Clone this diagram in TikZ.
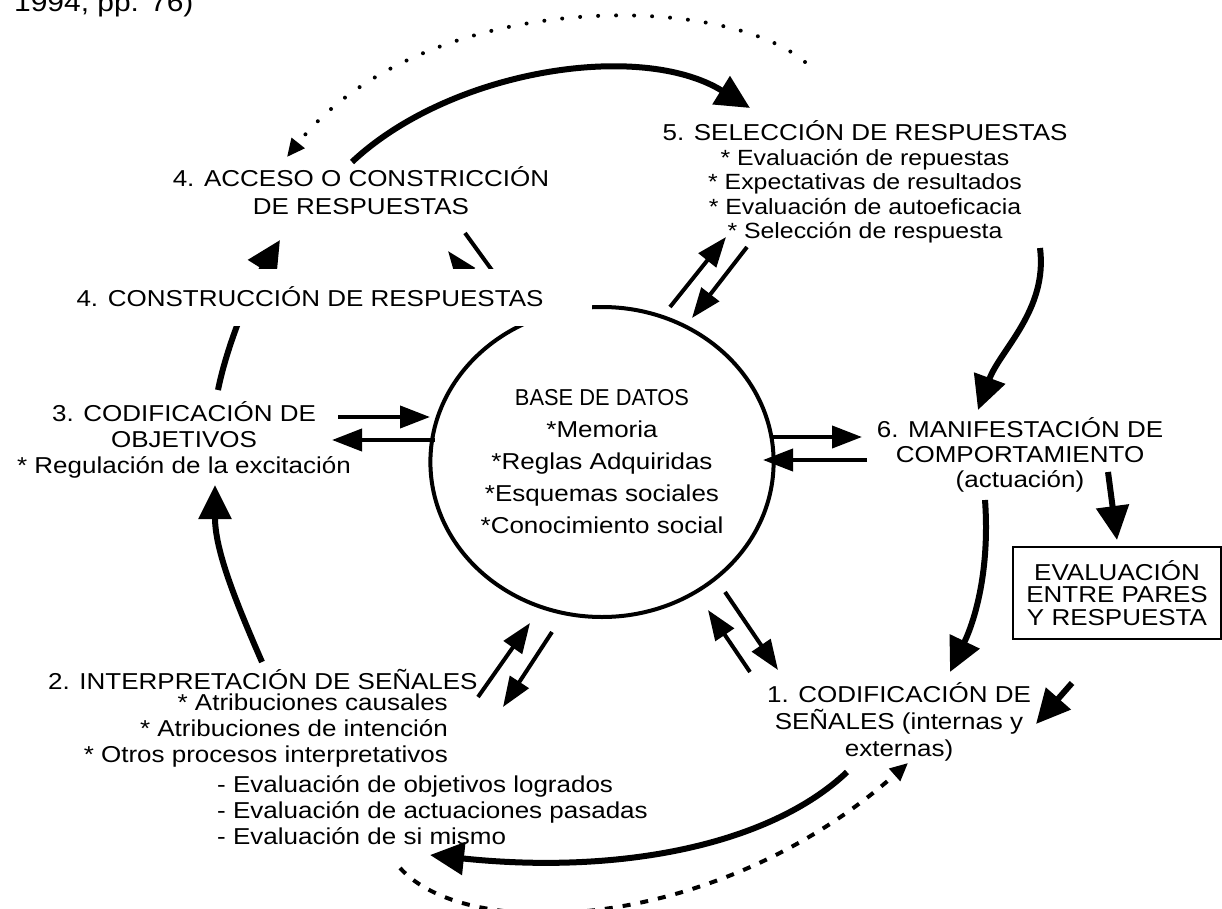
\documentclass[tikz,border=0pt]{standalone}
\usepackage{fontspec}
\setmainfont[FakeStretch=1.13]{Liberation Sans}
\newfontfamily\narrowfont[FakeStretch=0.95]{Liberation Sans}
\usetikzlibrary{arrows.meta,shapes.geometric,backgrounds}

\begin{document}
\begin{tikzpicture}[
    x=1pt, y=-1pt,
    lbl/.style={align=center, inner sep=0pt, font=\fontsize{23}{26}\selectfont},
    base/.style={ellipse, draw, line width=4pt, minimum width=298pt, minimum height=310pt, inner sep=0pt, align=center, font=\fontsize{23}{32}\selectfont},
    evalbox/.style={rectangle, draw, line width=2pt, minimum width=208pt, minimum height=92pt, align=center, font=\fontsize{23}{22.5}\selectfont},
    curve/.style={line width=6pt, -{Triangle[length=34pt,width=32pt]}},
    pair/.style={line width=4pt, -{Triangle[length=30pt,width=22pt]}},
    dots/.style={line width=4pt, line cap=round, dash pattern=on 0pt off 18pt, -{Triangle[length=18pt,width=16pt]}},
    dashes/.style={line width=4pt, dash pattern=on 8pt off 10pt, -{Triangle[length=18pt,width=16pt]}}
]
\useasboundingbox (0,0) rectangle (1222,909);

% caption cut at the top
\node[lbl, anchor=base west, font=\fontsize{26.5}{30}\selectfont] (src) at (14,12) {1994, pp. 76)};

% data base
\node[base] (db) at (602,462) {{\narrowfont BASE DE DATOS}\\*Memoria\\*Reglas Adquiridas\\*Esquemas sociales\\*Conocimiento social};

% steps
\node[lbl, font=\fontsize{23}{28}\selectfont] (acc) at (361,191) {4. ACCESO O CONSTRICCIÓN\\DE RESPUESTAS};
\node[lbl, fill=white, minimum width=564pt, minimum height=57pt] (cons) at (310,297) {4. CONSTRUCCIÓN DE RESPUESTAS};
\node[lbl] (obj) at (184,440) {3. CODIFICACIÓN DE\\OBJETIVOS\\* Regulación de la excitación};
\node[lbl, font=\fontsize{22}{24.5}\selectfont] (sel) at (865,182) {{\fontsize{23}{24.5}\selectfont 5. SELECCIÓN DE RESPUESTAS}\\* Evaluación de repuestas\\* Expectativas de resultados\\* Evaluación de autoeficacia\\* Selección de respuesta};
\node[lbl, font=\fontsize{23}{25}\selectfont] (man) at (1020,455) {6. MANIFESTACIÓN DE\\COMPORTAMIENTO\\(actuación)};
\node[evalbox] (eval) at (1117,593) {EVALUACIÓN\\ENTRE PARES\\Y RESPUESTA};
\node[lbl, font=\fontsize{23}{27}\selectfont] (cod) at (899,722) {1. CODIFICACIÓN DE\\SEÑALES (internas y\\externas)};
\node[lbl, anchor=west] (int) at (48,680) {2. INTERPRETACIÓN DE SEÑALES};
\node[lbl, align=right, anchor=north east] (intA) at (448,694) {* Atribuciones causales\\* Atribuciones de intención\\* Otros procesos interpretativos};
\node[lbl, align=left, anchor=north west] (intB) at (217,775) {- Evaluación de objetivos logrados\\- Evaluación de actuaciones pasadas\\- Evaluación de si mismo};

% arrow ends
\coordinate (a0) at (352,162);  \coordinate (a1) at (750,108);
\coordinate (b0) at (805,62);   \coordinate (b1) at (287,157);
\coordinate (c0) at (1040,248); \coordinate (c1) at (978,410);
\coordinate (d0) at (985,500);  \coordinate (d1) at (950,672);
\coordinate (e0) at (1108,472); \coordinate (e1) at (1117,540);
\coordinate (f0) at (1072,683); \coordinate (f1) at (1036,724);
\coordinate (g0) at (847,772);  \coordinate (g1) at (430,855);
\coordinate (h0) at (400,868);  \coordinate (h1) at (908,763);
\coordinate (i0) at (262,662);  \coordinate (i1) at (215,485);
\coordinate (j0) at (218,390);  \coordinate (j1) at (280,240);

\begin{scope}[on background layer]
% cycle
\draw[curve] (a0) .. controls (450,70) and (640,40) .. (a1);
\draw[dots] (b0) .. controls (720,-10) and (420,-10) .. (b1);
\draw[curve] (c0) .. controls (1048,310) and (1000,350) .. (c1);
\draw[curve] (d0) .. controls (990,570) and (975,620) .. (d1);
\draw[curve] (e0) -- (e1);
\draw[curve] (f0) -- (f1);
\draw[curve] (g0) .. controls (770,845) and (620,875) .. (g1);
\draw[dashes] (h0) .. controls (470,945) and (720,930) .. (h1);
\draw[curve] (i0) .. controls (235,600) and (215,550) .. (i1);
\draw[curve] (j0) .. controls (228,340) and (255,280) .. (j1);

% to and from the data base
\draw[pair] (338,417) -- (430,417);
\draw[pair] (435,440) -- (332,440);
\draw[pair] (770,437) -- (862,437);
\draw[pair] (867,460) -- (763,460);
\draw[pair] (670,307) -- (726,237);
\draw[pair] (747,247) -- (692,318);
\draw[pair] (478,697) -- (530,623);
\draw[pair] (552,632) -- (503,707);
\draw[pair] (725,592) -- (778,670);
\draw[pair] (750,672) -- (708,610);
\draw[pair] (465,233) -- (515,302);
\draw[pair] (482,296) -- (448,251);
\end{scope}
\end{tikzpicture}
\end{document}
